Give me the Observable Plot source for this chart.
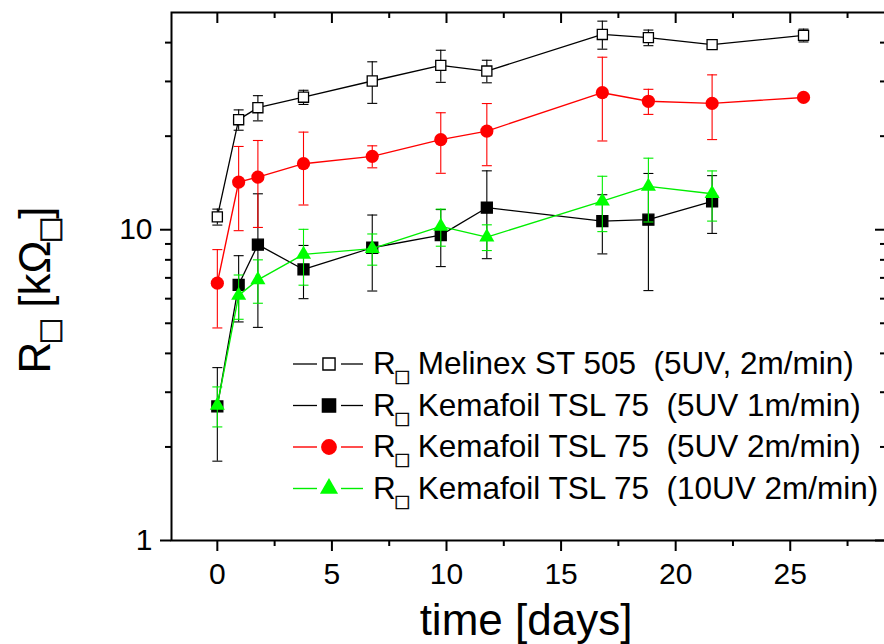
<!DOCTYPE html>
<html><head><meta charset="utf-8">
<script src="https://cdn.jsdelivr.net/npm/d3@7"></script>
<script src="https://cdn.jsdelivr.net/npm/@observablehq/plot@0.6"></script>
<style>
body{margin:0;background:#fff}
#chart{width:884px;height:644px;overflow:hidden}
svg text{white-space:pre}
</style>
</head><body><div id="chart"></div>
<script>
// ---- data ----
const days = [0, 0.93, 1.77, 3.76, 6.76, 9.75, 11.76, 16.8, 18.81, 21.59, 25.58];

const melinexR   = [11.0, 22.6, 24.7, 26.7, 30.1, 33.8, 32.4, 42.5, 41.5, 39.4, 42.2];
const melinexErr = [0.65, 1.7, 2.3, 1.4, 4.6, 4.0, 2.7, 4.4, 2.4, 0, 2.0];

const kema5uv1R   = [2.70, 6.65, 8.95, 7.45, 8.75, 9.61, 11.77, 10.66, 10.77, 12.33];
const kema5uv1Err = [0.9, 1.6, 4.1, 1.45, 2.4, 2.0, 3.7, 2.3, 4.4, 2.6];

const kema5uv2R   = [6.73, 14.23, 14.77, 16.31, 17.22, 19.49, 20.77, 27.6, 25.9, 25.5, 26.65];
const kema5uv2Err = [1.9, 4.3, 4.6, 4.3, 1.4, 4.3, 4.7, 8.3, 2.4, 6.0, 0];

const kema10uvR   = [2.72, 6.15, 6.90, 8.33, 8.69, 10.25, 9.47, 12.36, 13.79, 13.06];
const kema10uvErr = [0.4, 1.0, 1.1, 1.7, 1.0, 1.4, 0.9, 2.5, 3.2, 2.4];

const seriesNames = [
  " Melinex ST 505  (5UV, 2m/min)",
  " Kemafoil TSL 75  (5UV 1m/min)",
  " Kemafoil TSL 75  (5UV 2m/min)",
  " Kemafoil TSL 75  (10UV 2m/min)"
];

const xMajor = [0, 5, 10, 15, 20, 25];
const xMinor = [2.5, 7.5, 12.5, 17.5, 22.5, 27.5];
const yMajor = [1, 10];
const yMinor = [2, 3, 4, 5, 6, 7, 8, 9, 20, 30, 40];

// ---- styling ----
const styles = [
  {color: "#000000", symbol: "square",   fill: "#ffffff", r: 5.7, lw: 1.3},
  {color: "#000000", symbol: "square",   fill: "#000000", r: 6.2, lw: 1.3},
  {color: "#ff0000", symbol: "circle",   fill: "#ff0000", r: 6.6, lw: 1.4},
  {color: "#00ee00", symbol: "triangle", fill: "#00ff00", r: 5.6, lw: 1.4}
];
const symMap = {square: d3.symbolSquare, circle: d3.symbolCircle, triangle: d3.symbolTriangle};

const seriesData = [
  [melinexR, melinexErr],
  [kema5uv1R, kema5uv1Err],
  [kema5uv2R, kema5uv2Err],
  [kema10uvR, kema10uvErr]
].map(([ys, es], i) => ys.map((y, j) => ({x: days[j], y, e: es[j], s: i})));

const capSymbol = {
  draw(ctx, size) { const w = Math.sqrt(size / Math.PI); ctx.moveTo(-w, 0); ctx.lineTo(w, 0); }
};

const W = 884, H = 644, mL = 171, mR = -2, mT = 12, mB = 104;
const plotW = W - mL - mR, plotH = H - mT - mB;

const marks = [
  Plot.frame({strokeWidth: 2}),
  Plot.axisX(xMajor, {anchor: "bottom", tickSize: 11, tickPadding: 11, fontSize: 30, strokeWidth: 2, label: null, tickFormat: d => String(d)}),
  Plot.axisX(xMinor, {anchor: "bottom", tickSize: 6, strokeWidth: 2, label: null, tickFormat: () => ""}),
  Plot.axisY(yMajor, {anchor: "left", tickSize: 11, tickPadding: 8, fontSize: 30, strokeWidth: 2, label: null, tickFormat: d => String(d)}),
  Plot.axisY(yMinor, {anchor: "left", tickSize: 6, strokeWidth: 2, label: null, tickFormat: () => ""}),
  Plot.tickX(xMajor, {x: d => d, insetBottom: plotH - 11, strokeWidth: 2}),
  Plot.tickX(xMinor, {x: d => d, insetBottom: plotH - 6, strokeWidth: 2}),
  Plot.tickY(yMajor, {y: d => d, insetLeft: plotW - 11, strokeWidth: 2}),
  Plot.tickY(yMinor, {y: d => d, insetLeft: plotW - 6, strokeWidth: 2})
];

seriesData.forEach((rows, i) => {
  const st = styles[i];
  const withErr = rows.filter(d => d.e > 0);
  marks.push(
    Plot.line(rows, {x: "x", y: "y", stroke: st.color, strokeWidth: st.lw}),
    Plot.ruleX(withErr, {x: "x", y1: d => d.y - d.e, y2: d => d.y + d.e, stroke: st.color, strokeWidth: 1.1}),
    Plot.dot(withErr, {x: "x", y: d => d.y + d.e, symbol: capSymbol, r: 5, stroke: st.color, strokeWidth: 1.1, fill: "none"}),
    Plot.dot(withErr, {x: "x", y: d => d.y - d.e, symbol: capSymbol, r: 5, stroke: st.color, strokeWidth: 1.1, fill: "none"}),
    Plot.dot(rows, {x: "x", y: "y", symbol: st.symbol, r: st.r, fill: st.fill,
      stroke: st.symbol === "square" ? "#000" : "none", strokeWidth: 1.3})
  );
});

const chart = Plot.plot({
  width: W, height: H,
  marginLeft: mL, marginRight: mR, marginTop: mT, marginBottom: mB,
  style: {fontFamily: "'Liberation Sans', Arial, sans-serif", color: "#000", background: "#fff", overflow: "hidden"},
  x: {domain: [-2, 29.2]},
  y: {type: "log", domain: [1, 50]},
  marks
});

document.getElementById("chart").appendChild(chart);

// ---- titles and legend (layout) ----
const svg = d3.select(chart);
const font = "'Liberation Sans', Arial, sans-serif";

// x title
svg.append("text")
  .attr("x", 526).attr("y", 635)
  .attr("text-anchor", "middle").attr("font-family", font).attr("font-size", 44)
  .attr("fill", "#000").text("time [days]");

// y title
const yt = svg.append("text")
  .attr("transform", "translate(50,290) rotate(-90)")
  .attr("text-anchor", "middle").attr("font-family", font).attr("font-size", 44).attr("fill", "#000");
yt.append("tspan").text("R");
yt.append("tspan").attr("font-size", 36).attr("dy", 12).attr("stroke", "#000").attr("stroke-width", 0.6).text("□");
yt.append("tspan").attr("dy", -12).text(" [kΩ");
yt.append("tspan").attr("font-size", 36).attr("dy", 12).attr("stroke", "#000").attr("stroke-width", 0.6).text("□");
yt.append("tspan").attr("dy", -12).text("]");

// legend
const lg = svg.append("g").attr("text-anchor", "start");
seriesNames.forEach((name, i) => {
  const st = styles[i];
  const base = 374 + i * 41.5;
  const cy = base - 10;
  const lr = st.r * 1.2;
  const g = lg.append("g");
  g.append("line").attr("x1", 293).attr("x2", 317).attr("y1", cy).attr("y2", cy)
    .attr("stroke", st.color).attr("stroke-width", st.lw);
  g.append("line").attr("x1", 341).attr("x2", 363).attr("y1", cy).attr("y2", cy)
    .attr("stroke", st.color).attr("stroke-width", st.lw);
  g.append("path")
    .attr("d", d3.symbol().type(symMap[st.symbol]).size(Math.PI * lr * lr)())
    .attr("transform", `translate(329,${cy})`)
    .attr("fill", st.fill).attr("stroke", st.symbol === "square" ? "#000" : "none").attr("stroke-width", 1.4);
  const t = g.append("text").attr("x", 373).attr("y", base).attr("text-anchor", "start")
    .attr("font-family", font).attr("font-size", 31.5).attr("fill", "#000");
  t.append("tspan").text("R");
  t.append("tspan").attr("font-size", 22).attr("dy", 10).attr("stroke", "#000").attr("stroke-width", 0.5).text("□");
  t.append("tspan").attr("dy", -10).text(name);
});
</script>
</body></html>
